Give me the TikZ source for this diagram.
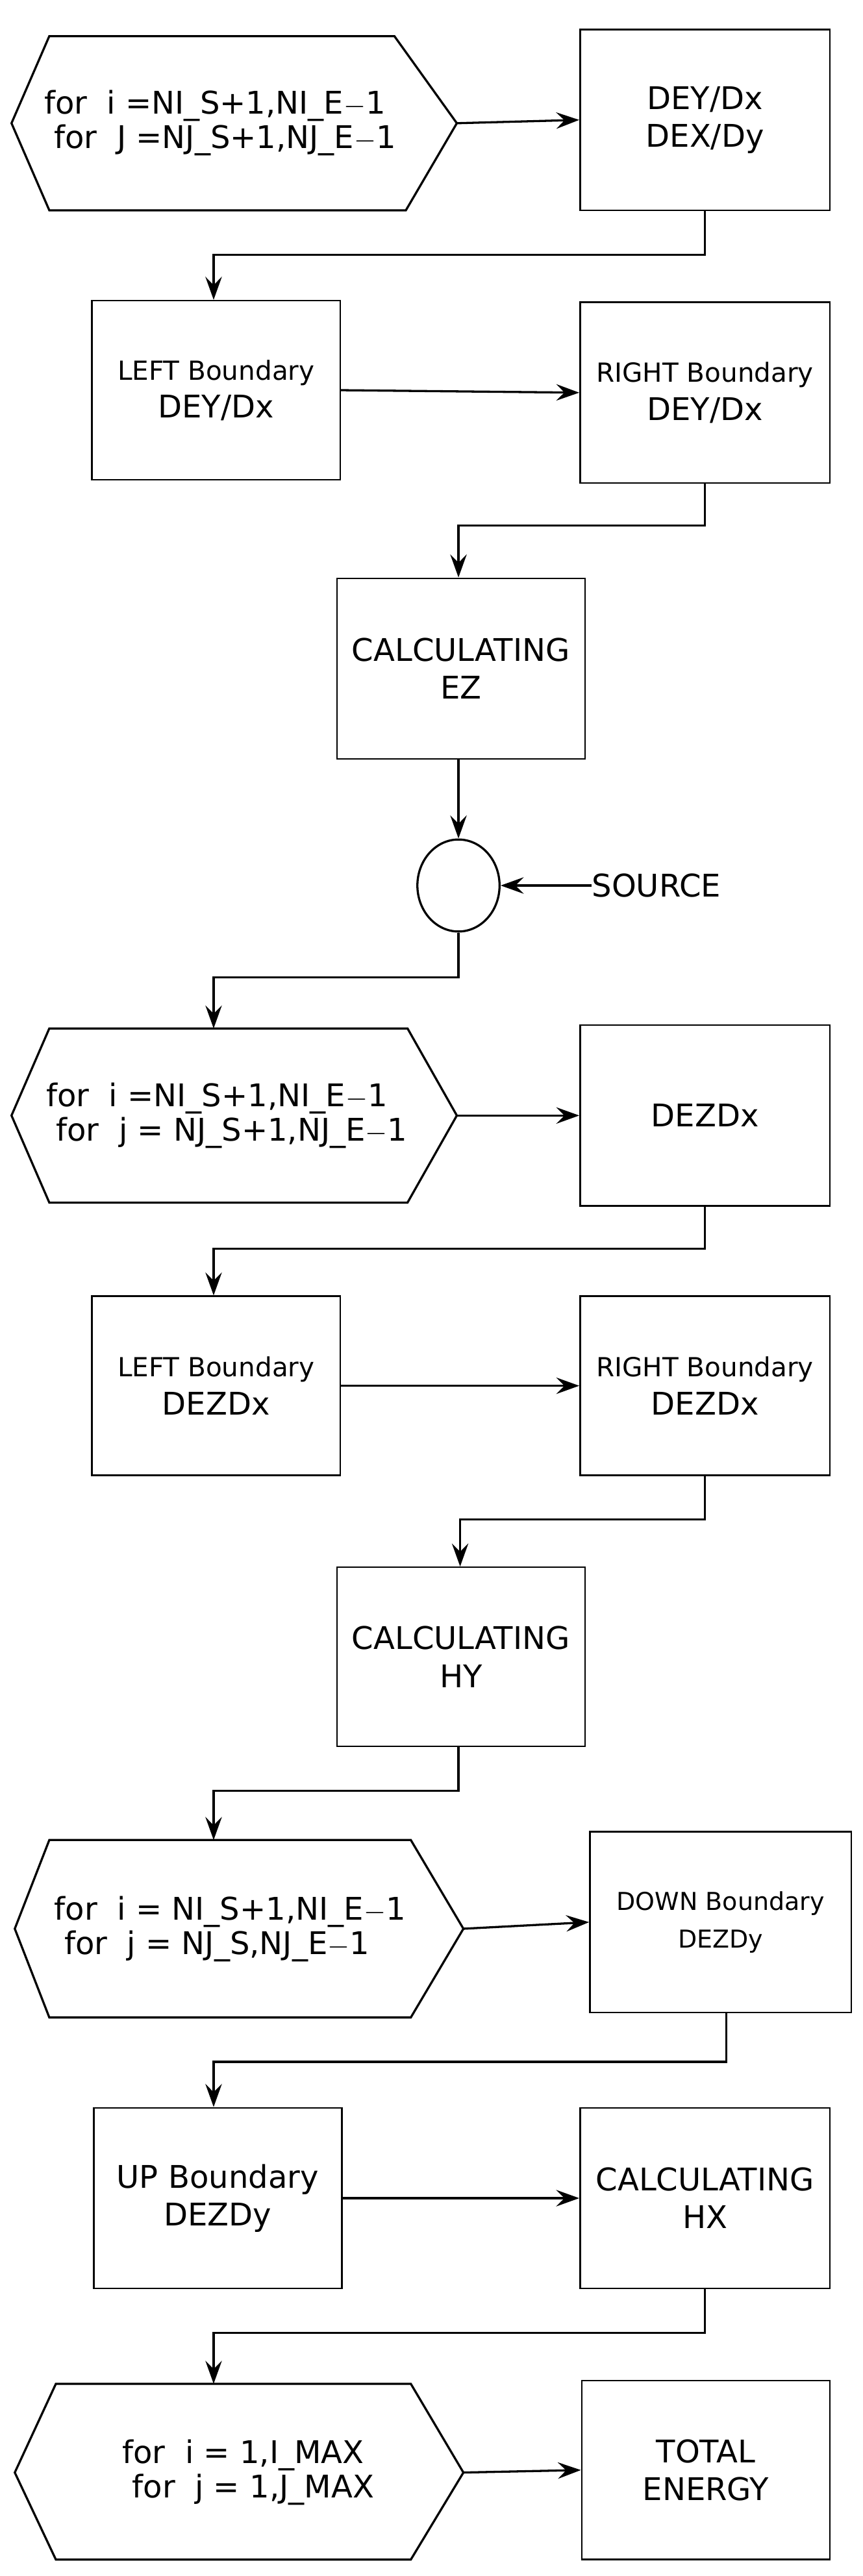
\documentclass[tikz,border=0pt]{standalone}
\usepackage{fontspec}
\setmainfont{DejaVu Sans}
\usetikzlibrary{arrows.meta,shapes.geometric}
\begin{document}
\begin{tikzpicture}[x=1pt,y=-1pt,
  box/.style={draw,line width=1pt,inner sep=0pt,align=center,font=\fontsize{19}{23}\selectfont},
  hex/.style={draw,line width=1.3pt},
  txt/.style={align=left,font=\fontsize{19}{23}\selectfont},
  con/.style={line width=1.3pt,-{Stealth[length=14pt,width=10pt,inset=5pt]}}]
\useasboundingbox (0,0) rectangle (525,1568);
\newcommand{\bx}[6]{\node[box,minimum width=#4-#2,minimum height=#5-#3] (#1) at ({(#2+#4)/2},{(#3+#5)/2}) {#6};}
% hexagons
\draw[hex] (7,75) -- (30,22) -- (240,22) -- (278,75) -- (247,128) -- (30,128) -- cycle;
\coordinate (h1r) at (278,75);
\node[txt] (h1) at (134,75) {for\ \ i =NI\_S+1,NI\_E$-$1\\[-2pt]\ for\ \ J =NJ\_S+1,NJ\_E$-$1};
\draw[hex] (7,679) -- (30,626) -- (248,626) -- (278,679) -- (248,732) -- (30,732) -- cycle;
\coordinate (h2r) at (278,679);
\coordinate (h2t) at (130,626);
\node[txt] (h2) at (138,679) {for\ \ i =NI\_S+1,NI\_E$-$1\\[-2pt]\ for\ \ j = NJ\_S+1,NJ\_E$-$1};
\draw[hex] (9,1174) -- (30,1120) -- (250,1120) -- (282,1174) -- (250,1228) -- (30,1228) -- cycle;
\coordinate (h3r) at (282,1174);
\coordinate (h3t) at (130,1120);
\node[txt] (h3) at (140,1174) {for\ \ i = NI\_S+1,NI\_E$-$1\\[-2pt]\ for\ \ j = NJ\_S,NJ\_E$-$1};
\draw[hex] (9,1505) -- (34,1451) -- (250,1451) -- (282,1505) -- (250,1558) -- (34,1558) -- cycle;
\coordinate (h4r) at (282,1505);
\coordinate (h4t) at (130,1451);
\node[txt,align=center] (h4) at (148,1505) {for\ \ i = 1,I\_MAX\\[-2pt]\ \ for\ \ j = 1,J\_MAX};
% boxes
\bx{b1}{353}{18}{505}{128}{DEY/Dx\\DEX/Dy}
\bx{b2}{56}{183}{207}{292}{{\fontsize{16}{20}\selectfont LEFT Boundary}\\DEY/Dx}
\bx{b3}{353}{184}{505}{294}{{\fontsize{16}{20}\selectfont RIGHT Boundary}\\DEY/Dx}
\bx{b4}{205}{352}{356}{462}{CALCULATING\\EZ}
\node[draw,line width=1.3pt,ellipse,minimum width=50pt,minimum height=56pt,inner sep=0pt] (c) at (279,539) {};
\node[font=\fontsize{19}{23}\selectfont,anchor=west,inner sep=0pt] (src) at (360,539) {SOURCE};
\bx{b5}{353}{624}{505}{734}{DEZDx}
\bx{b6}{56}{789}{207}{898}{{\fontsize{16}{20}\selectfont LEFT Boundary}\\DEZDx}
\bx{b7}{353}{789}{505}{898}{{\fontsize{16}{20}\selectfont RIGHT Boundary}\\DEZDx}
\bx{b8}{205}{954}{356}{1063}{CALCULATING\\HY}
\bx{b9}{359}{1115}{518}{1225}{{\fontsize{15}{20}\selectfont DOWN Boundary}\\{\fontsize{15}{20}\selectfont DEZDy}}
\bx{b10}{57}{1283}{208}{1393}{UP Boundary\\DEZDy}
\bx{b11}{353}{1283}{505}{1393}{CALCULATING\\HX}
\bx{b12}{354}{1449}{505}{1558}{TOTAL\\ENERGY}
% connectors
\draw[con] (h1r) -- (b1.west);
\draw[con] (b1.south) -- (429,155) -- (130,155) -- (b2.north-|130,0);
\draw[con] (b2.east) -- (b3.west);
\draw[con] (b3.south) -- (429,320) -- (279,320) -- (b4.north-|279,0);
\draw[con] (b4.south-|279,0) -- (c.north);
\draw[con] (src.west) -- (c.east);
\draw[con] (c.south) -- (279,595) -- (130,595) -- (h2t);
\draw[con] (h2r) -- (b5.west);
\draw[con] (b5.south) -- (429,760) -- (130,760) -- (b6.north-|130,0);
\draw[con] (b6.east) -- (b7.west);
\draw[con] (b7.south) -- (429,925) -- (280,925) -- (b8.north-|280,0);
\draw[con] (b8.south-|279,0) -- (279,1090) -- (130,1090) -- (h3t);
\draw[con] (h3r) -- (b9.west);
\draw[con] (b9.south-|442,0) -- (442,1255) -- (130,1255) -- (b10.north-|130,0);
\draw[con] (b10.east) -- (b11.west);
\draw[con] (b11.south) -- (429,1420) -- (130,1420) -- (h4t);
\draw[con] (h4r) -- (b12.west);
\end{tikzpicture}
\end{document}
